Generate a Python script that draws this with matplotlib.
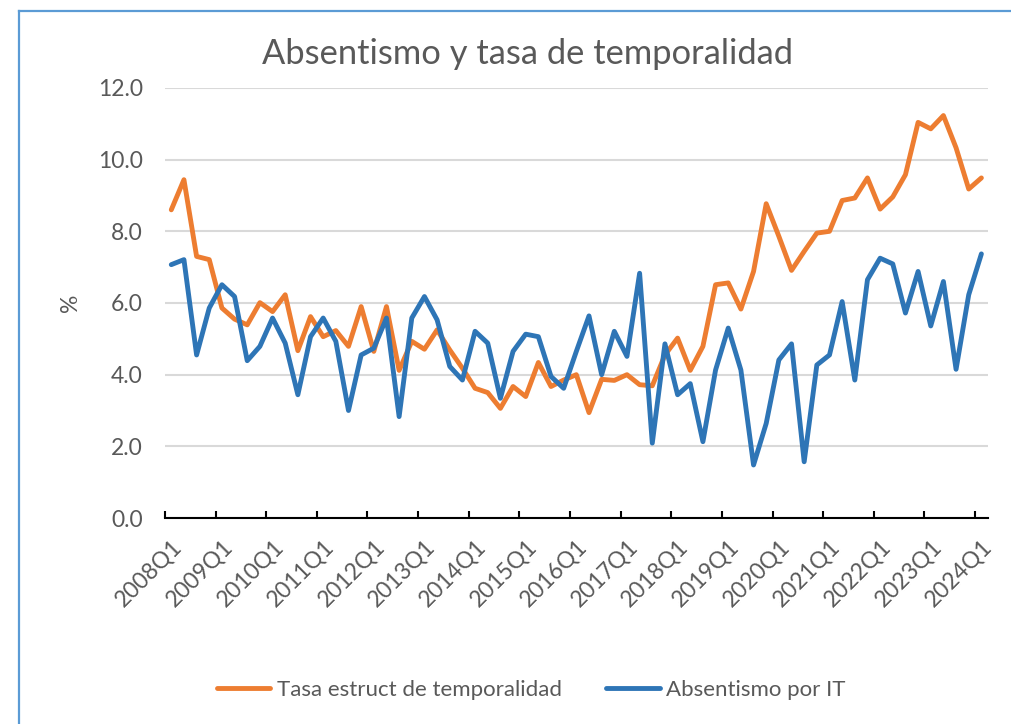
import matplotlib
matplotlib.use("Agg")
import matplotlib.pyplot as plt
from matplotlib.lines import Line2D

plt.rcParams['font.family'] = ['Lato', 'DejaVu Sans']

# quarters 2008Q1 .. 2024Q1
quarters = [f"{y}Q{q}" for y in range(2008, 2025) for q in range(1, 5)][:65]

temporalidad = [8.60, 9.44, 7.30, 7.21, 5.86, 5.55, 5.39, 6.01, 5.76, 6.23,
                4.67, 5.62, 5.06, 5.23, 4.79, 5.90, 4.65, 5.90, 4.12, 4.93,
                4.71, 5.25, 4.69, 4.18, 3.62, 3.50, 3.06, 3.67, 3.39, 4.34,
                3.67, 3.85, 4.00, 2.94, 3.87, 3.84, 4.00, 3.72, 3.69, 4.55,
                5.02, 4.12, 4.79, 6.51, 6.56, 5.83, 6.88, 8.77, 7.86, 6.91,
                7.44, 7.95, 8.00, 8.86, 8.93, 9.49, 8.62, 8.96, 9.58, 11.04,
                10.86, 11.23, 10.33, 9.18, 9.49]

absentismo = [7.07, 7.21, 4.55, 5.86, 6.51, 6.18, 4.39, 4.79, 5.58, 4.88,
              3.44, 5.06, 5.58, 4.93, 3.00, 4.55, 4.74, 5.58, 2.83, 5.58,
              6.18, 5.53, 4.23, 3.85, 5.21, 4.88, 3.34, 4.65, 5.13, 5.06,
              3.95, 3.62, 4.65, 5.64, 4.00, 5.21, 4.51, 6.83, 2.09, 4.86,
              3.44, 3.75, 2.13, 4.13, 5.30, 4.13, 1.48, 2.64, 4.41, 4.86,
              1.57, 4.27, 4.55, 6.04, 3.85, 6.65, 7.25, 7.09, 5.72, 6.88,
              5.36, 6.60, 4.15, 6.23, 7.37]

orange = '#ED7D31'
blue = '#2E75B6'
txt = '#595959'

fig = plt.figure(figsize=(10.12, 7.24), dpi=100)
ax = fig.add_axes([0.163, 0.2845, 0.813, 0.594])

x = list(range(len(quarters)))
ax.plot(x, temporalidad, color=orange, lw=3.5, solid_capstyle='round',
        solid_joinstyle='round', label='Tasa estruct de temporalidad')
ax.plot(x, absentismo, color=blue, lw=3.5, solid_capstyle='round',
        solid_joinstyle='round', label='Absentismo por IT')

ax.set_xlim(-0.5, len(quarters) - 0.5)
ax.set_ylim(0, 12)
ax.set_yticks([0, 2, 4, 6, 8, 10, 12])
ax.set_yticklabels([f"{v:.1f}" for v in [0, 2, 4, 6, 8, 10, 12]])
ax.yaxis.grid(True, color='#D9D9D9', lw=1.5)
ax.set_axisbelow(True)

# labels at category centres, tick marks at category boundaries
lab_idx = list(range(0, len(quarters), 4))
ax.set_xticks(lab_idx)
ax.set_xticklabels([quarters[i] for i in lab_idx], rotation=45, ha='right',
                   va='top', rotation_mode='anchor')
ax.set_xticks([i - 0.5 for i in lab_idx], minor=True)
ax.tick_params(axis='x', which='major', length=0, pad=13, labelsize=16.5, labelcolor=txt)
ax.tick_params(axis='x', which='minor', direction='in', length=5, width=1.5, color='black')
ax.tick_params(axis='y', length=0, pad=16, labelsize=16.5, labelcolor=txt)

for s in ['top', 'right', 'left']:
    ax.spines[s].set_visible(False)
ax.spines['bottom'].set_color('black')
ax.spines['bottom'].set_linewidth(1.5)

ax.set_ylabel('%', fontsize=16.5, color=txt, labelpad=12)
fig.text(0.521, 0.925, 'Absentismo y tasa de temporalidad', ha='center',
         va='center', fontsize=24.8, color=txt)

fig.legend(loc='center', bbox_to_anchor=(0.525, 0.047), ncol=2, frameon=False,
           fontsize=16, handlelength=2.4, handletextpad=0.3,
           columnspacing=2.0, labelcolor=txt)

# chart-area border (left and top visible)
fig.add_artist(Line2D([0.0188, 0.0188], [0.0, 0.9848], color='#5B9BD5', lw=1.6,
                      transform=fig.transFigure))
fig.add_artist(Line2D([0.0188, 1.0], [0.9848, 0.9848], color='#5B9BD5', lw=1.6,
                      transform=fig.transFigure))

fig.savefig('out.png', dpi=100)
